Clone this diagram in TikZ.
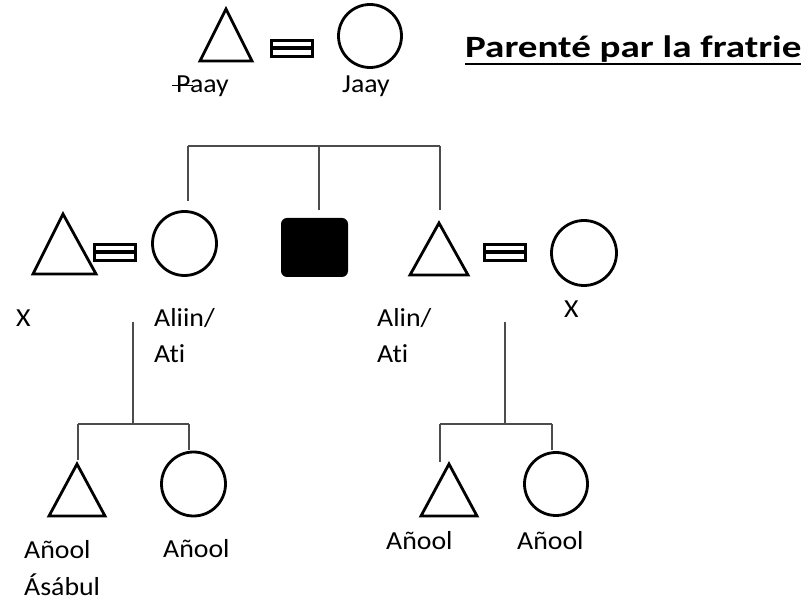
\documentclass[tikz,border=0pt]{standalone}
\usepackage{fontspec}
\setmainfont{Carlito}[Ligatures=NoCommon]
\usepackage{graphicx}
\newcommand\wtxt[1]{\scalebox{1.07}[1]{#1}}
\begin{document}
\begin{tikzpicture}[x=1pt,y=-1pt,
  shp/.style={line width=2.8pt, draw=black, line join=miter},
  circ/.style={circle, draw=black, line width=2.8pt, inner sep=0pt},
  link/.style={line width=1.3pt, draw=black!70},
  lbl/.style={anchor=base west, inner sep=0pt, font=\fontsize{26}{30}\selectfont},
  ttl/.style={anchor=base west, inner sep=0pt, font=\fontsize{31}{36}\selectfont\bfseries}
]
\useasboundingbox (0,0) rectangle (804,601);
\newcommand\eqbox[3]{% name, x1, y1
  \fill[black] (#2,#3) rectangle ++(44,19);
  \fill[white] (#2+3,#3+3) rectangle ++(38,13);
  \fill[black] (#2+3,#3+7.5) rectangle ++(38,4);
  \coordinate (#1) at (#2+22,#3+9.5);
}
% ---- parents
\draw[shp] (226,9) coordinate (pa) -- (252,61) -- (200,61) -- cycle;
\eqbox{m0}{270}{39}
\node[circ, minimum size=63pt] (ma) at (370,36) {};
\node[lbl] (paay) at (176,93) {\wtxt{Paay}};
\draw[line width=1.3pt] (172,85.5) -- (193,85.5);
\node[lbl] (jaay) at (342,93) {\wtxt{Jaay}};
\node[ttl] (title) at (465,58) {\scalebox{1.26}[1]{Parenté par la fratrie}};
\draw[line width=2pt] (465,64) -- (801,64);
% ---- siblings generation
\draw[shp] (63,214) coordinate (hx) -- (96,274) -- (33,274) -- cycle;
\eqbox{m1}{93}{243}
\node[circ, minimum size=64pt] (aliin) at (184.5,243.5) {};
\node[fill=black, rounded corners=6pt, minimum width=67pt, minimum height=59pt, inner sep=0pt] (sq) at (314.5,247.5) {};
\draw[shp] (439,223) coordinate (alin) -- (468,275) -- (410,275) -- cycle;
\eqbox{m2}{483}{243}
\node[circ, minimum size=65pt] (wx) at (584,253) {};
% sibling connectors
\coordinate (sL) at (188,146);
\coordinate (sM) at (319,146);
\coordinate (sR) at (440,146);
\coordinate (sLe) at (188,201);
\coordinate (sMe) at (319,210);
\coordinate (sRe) at (440,210);
\draw[link] (sL) -- (sR);
\draw[link] (sL) -- (sLe);
\draw[link] (sM) -- (sMe);
\draw[link] (sR) -- (sRe);
% labels
\node[lbl] (xl) at (16,327) {\wtxt{X}};
\node[lbl] (l1) at (154,327) {\wtxt{Aliin/}};
\node[lbl] (l2) at (154,363) {\wtxt{Ati}};
\node[lbl] (l3) at (377,327) {\wtxt{Alin/}};
\node[lbl] (l4) at (377,363) {\wtxt{Ati}};
\node[lbl] (xr) at (564,318) {\wtxt{X}};
% ---- children left
\coordinate (d1t) at (133,322);
\coordinate (d1m) at (133,424);
\coordinate (d1a) at (78,424);
\coordinate (d1b) at (189,424);
\coordinate (d1ae) at (78,460);
\coordinate (d1be) at (189,450);
\draw[link] (d1t) -- (d1m);
\draw[link] (d1a) -- (d1b);
\draw[link] (d1a) -- (d1ae);
\draw[link] (d1b) -- (d1be);
\draw[shp] (77,464) coordinate (k1) -- (105,516) -- (49,516) -- cycle;
\node[circ, minimum size=64pt] (k2) at (193.5,484) {};
\node[lbl] (n1) at (24,559) {\wtxt{Añool}};
\node[lbl] (n1b) at (24,596) {\wtxt{Ásábul}};
\node[lbl] (n2) at (163,558) {\wtxt{Añool}};
% ---- children right
\coordinate (d2t) at (505,322);
\coordinate (d2m) at (505,424);
\coordinate (d2a) at (440,424);
\coordinate (d2b) at (552,424);
\coordinate (d2ae) at (440,462);
\coordinate (d2be) at (552,450);
\draw[link] (d2t) -- (d2m);
\draw[link] (d2a) -- (d2b);
\draw[link] (d2a) -- (d2ae);
\draw[link] (d2b) -- (d2be);
\draw[shp] (449,464) coordinate (k3) -- (477,516) -- (421,516) -- cycle;
\node[circ, minimum size=63pt] (k4) at (556,484) {};
\node[lbl] (n3) at (386,550) {\wtxt{Añool}};
\node[lbl] (n4) at (517,550) {\wtxt{Añool}};
\end{tikzpicture}
\end{document}
